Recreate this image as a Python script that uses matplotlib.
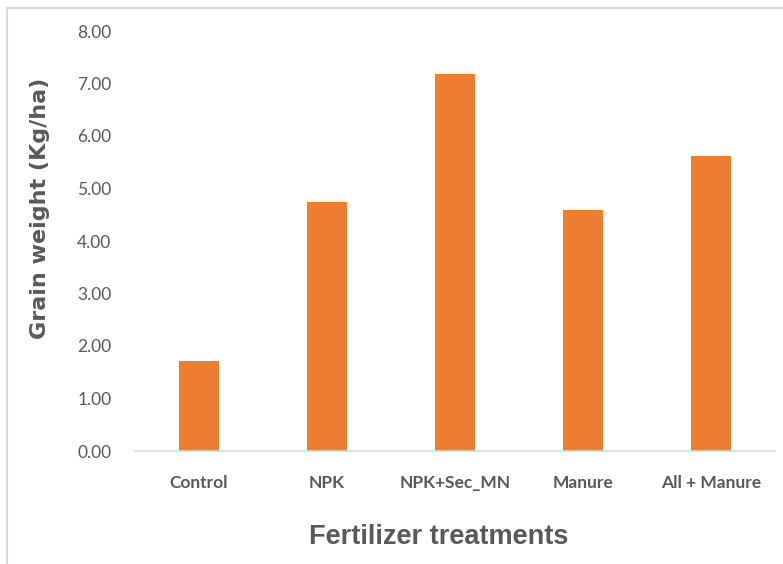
import matplotlib
matplotlib.use("Agg")
import matplotlib.pyplot as plt
from matplotlib.lines import Line2D

# treatments and mean grain weight
treatments = ["Control", "NPK", "NPK+Sec_MN", "Manure", "All + Manure"]
grain_weight = [1.72, 4.75, 7.18, 4.60, 5.61]
yticks = [0, 1, 2, 3, 4, 5, 6, 7, 8]

orange = "#ED7D31"
grey_txt = "#595959"

fig = plt.figure(figsize=(7.83, 5.64), dpi=100)
ax = fig.add_axes([135/783, 113/564, 640/783, 420/564])

x = range(len(treatments))
ax.bar(x, grain_weight, width=0.31, color=orange, zorder=2)

ax.set_xlim(-0.5, len(treatments) - 0.5)
ax.set_ylim(0, 8)
ax.set_yticks(yticks)
ax.set_yticklabels(["%.2f" % v for v in yticks], fontsize=12.5,
                   color=grey_txt, family="Lato")
ax.set_xticks(list(x))
ax.set_xticklabels(treatments, fontsize=12.5, fontweight="bold",
                   color=grey_txt, family="Lato")
ax.tick_params(axis="y", length=0, pad=17)
ax.tick_params(axis="x", length=0, pad=17)

for s in ["left", "right", "top"]:
    ax.spines[s].set_visible(False)
ax.spines["bottom"].set_color("#D9D9D9")
ax.spines["bottom"].set_linewidth(1.2)

fig.text(40/783, 1 - 208/564, "Grain weight (Kg/ha)", rotation=90,
         ha="center", va="center", fontsize=16, fontweight="heavy",
         color=grey_txt, family="DejaVu Sans")
fig.text(439/783, 1 - 537/564, "Fertilizer treatments", ha="center",
         va="center", fontsize=19.5, fontweight="bold", color=grey_txt,
         family="Liberation Sans")

# chart frame: only top and left edges show in the crop
fig.add_artist(Line2D([6.5/783, 1], [1 - 7.5/564, 1 - 7.5/564],
                      transform=fig.transFigure, color="#D9D9D9", lw=1.5))
fig.add_artist(Line2D([6.5/783, 6.5/783], [0, 1 - 7.5/564],
                      transform=fig.transFigure, color="#D9D9D9", lw=1.5))

fig.savefig("out.png", dpi=100)
